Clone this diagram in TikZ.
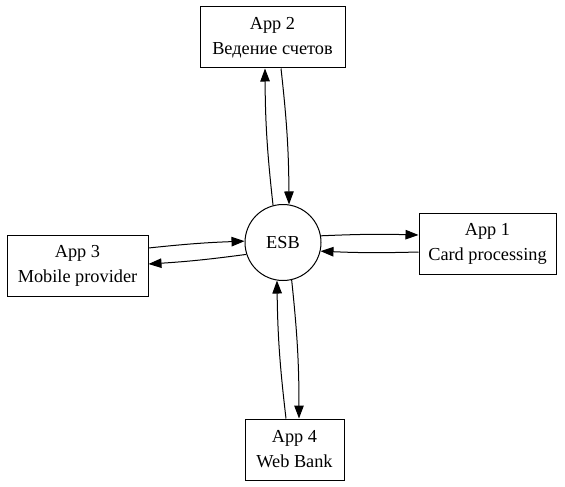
\documentclass[tikz,border=0pt]{standalone}
\usepackage{fontspec}
\setmainfont{Liberation Serif}
\usetikzlibrary{arrows.meta}
\begin{document}
\begin{tikzpicture}[x=1pt,y=-1pt,
  appbox/.style={draw,line width=1pt,minimum height=61pt,inner sep=0pt,align=center,
     font=\fontsize{18.3}{25}\selectfont},
  hub/.style={draw,circle,line width=1pt,minimum size=76pt,inner sep=0pt,font=\fontsize{18.3}{22}\selectfont},
  conn/.style={line width=1pt,-{Triangle[length=13pt,width=9.5pt]}}]
\useasboundingbox (0,0) rectangle (565,487);
\node[hub] (esb) at (283,242.5) {ESB};
\node[appbox,minimum width=145pt] (app2) at (272.5,37.5) {App 2\\Ведение счетов};
\node[appbox,minimum width=137pt] (app1) at (487.5,243.5) {App 1\\Card processing};
\node[appbox,minimum width=141pt] (app3) at (77.5,265.5) {App 3\\Mobile provider};
\node[appbox,minimum width=99pt] (app4) at (294.5,449.5) {App 4\\Web Bank};
% App 2
\draw[conn] (esb.105) to[bend left=3] ([xshift=-7.5pt]app2.south);
\draw[conn] ([xshift=8.5pt]app2.south) to[bend left=3] (esb.81);
% App 1
\draw[conn] (esb.10) to[bend left=2] ([yshift=8.5pt]app1.west);
\draw[conn] ([yshift=-8.5pt]app1.west) to[bend left=2] (esb.-13);
% App 3
\draw[conn] ([yshift=17.5pt]app3.east) to[bend left=2] (esb.178);
\draw[conn] (esb.198) to[bend left=2] ([yshift=1.5pt]app3.east);
% App 4
\draw[conn] ([xshift=-8.5pt]app4.north) to[bend left=3] (esb.261);
\draw[conn] (esb.283) to[bend left=3] ([xshift=4.5pt]app4.north);
\end{tikzpicture}
\end{document}
